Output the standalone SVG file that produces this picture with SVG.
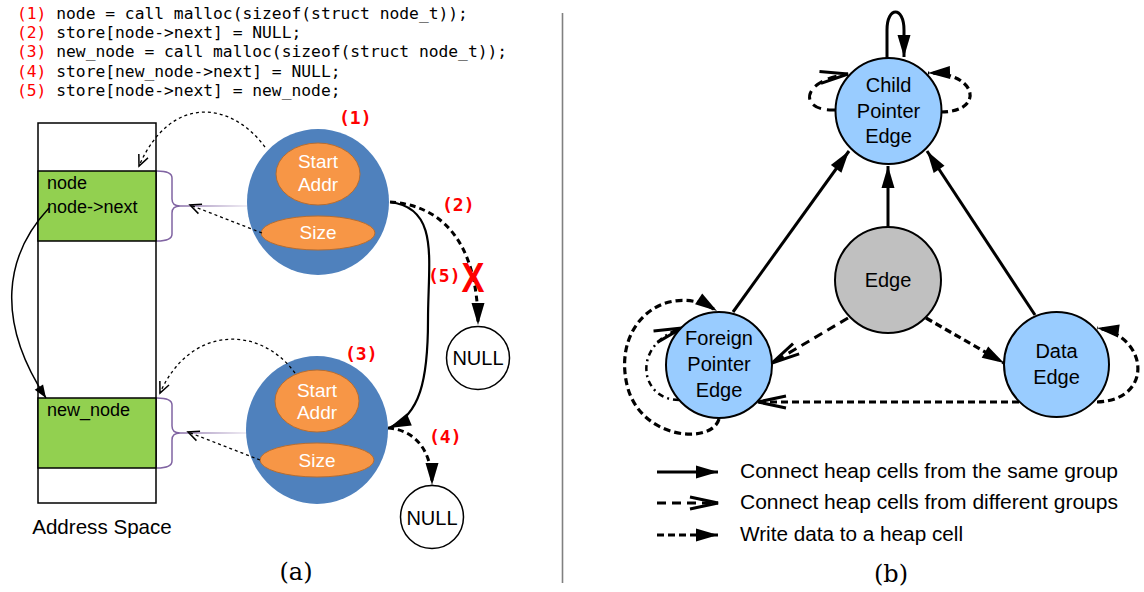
<svg xmlns="http://www.w3.org/2000/svg" width="1144" height="592" viewBox="0 0 1144 592">
<style>
.code{font-family:"DejaVu Sans Mono",monospace;font-size:16.3px;fill:#000}
.red{fill:#ff0000}
.lab{font-family:"DejaVu Sans Mono",monospace;font-size:18px;font-weight:bold;fill:#ff0000}
.sans{font-family:"Liberation Sans",Arial,sans-serif;fill:#000}
.wt{font-family:"Liberation Sans",Arial,sans-serif;font-size:19px;fill:#fff;text-anchor:middle}
.nt{font-family:"Liberation Sans",Arial,sans-serif;font-size:20px;fill:#000;text-anchor:middle}
.cap{font-family:"DejaVu Serif",serif;font-size:24px;fill:#000;text-anchor:middle}
.blob{fill:#4f81bd}
.oval{fill:#f79646;stroke:#b66d31;stroke-width:1}
.cell{fill:#92d050;stroke:#000;stroke-width:1.5}
.brace{fill:none;stroke:#8064a2;stroke-width:1.5}
.thin{fill:none;stroke:#000;stroke-width:1.3;stroke-dasharray:3,3}
.bnode{fill:#99ccff;stroke:#000;stroke-width:2}
.gnode{fill:#c0c0c0;stroke:#000;stroke-width:2}
.solid{fill:none;stroke:#000;stroke-width:3}
.diff{fill:none;stroke:#000;stroke-width:3;stroke-dasharray:9,6}
.write{fill:none;stroke:#000;stroke-width:3.2;stroke-dasharray:7,4}
.dd{fill:none;stroke:#000;stroke-width:2.5;stroke-dasharray:6,4,2,4}
</style>
<defs>
<marker id="fillB" markerUnits="userSpaceOnUse" markerWidth="24" markerHeight="14" refX="22" refY="6.5" orient="auto" overflow="visible"><path d="M0,0 L22,6.5 L0,13 z" fill="#000"/></marker>
<marker id="fillS" markerUnits="userSpaceOnUse" markerWidth="14" markerHeight="11" refX="13" refY="5" orient="auto" overflow="visible"><path d="M0,0 L13,5 L0,10 z" fill="#000"/></marker>
<marker id="openB" markerUnits="userSpaceOnUse" markerWidth="30" markerHeight="14" refX="28" refY="6" orient="auto" overflow="visible"><path d="M0,0 L28,6 L0,12" fill="none" stroke="#000" stroke-width="3"/></marker>
<marker id="openS" markerUnits="userSpaceOnUse" markerWidth="12" markerHeight="12" refX="11" refY="5" orient="auto" overflow="visible"><path d="M0,0 L11,5 L0,10" fill="none" stroke="#000" stroke-width="1.5"/></marker>
<linearGradient id="fade" x1="0" y1="0" x2="1" y2="0"><stop offset="0" stop-color="#8064a2"/><stop offset="1" stop-color="#8064a2" stop-opacity="0.15"/></linearGradient>
</defs>

<g id="code">
<text class="code" x="17" y="19"><tspan class="red">(1)</tspan> node = call malloc(sizeof(struct node_t));</text>
<text class="code" x="17" y="38"><tspan class="red">(2)</tspan> store[node-&gt;next] = NULL;</text>
<text class="code" x="17" y="57"><tspan class="red">(3)</tspan> new_node = call malloc(sizeof(struct node_t));</text>
<text class="code" x="17" y="76.5"><tspan class="red">(4)</tspan> store[new_node-&gt;next] = NULL;</text>
<text class="code" x="17" y="95.5"><tspan class="red">(5)</tspan> store[node-&gt;next] = new_node;</text>
</g>

<g id="address-space">
<rect x="38" y="123" width="118" height="380" fill="#fff" stroke="#000" stroke-width="1.5"/>
<rect class="cell" x="38" y="171" width="118" height="70"/>
<rect class="cell" x="38" y="398" width="118" height="70"/>
<text class="sans" x="47" y="189" font-size="18">node</text>
<text class="sans" x="47" y="213" font-size="18">node-&gt;next</text>
<text class="sans" x="47" y="416" font-size="18">new_node</text>
<text class="sans" x="102" y="534" font-size="20.6" text-anchor="middle">Address Space</text>
<path class="brace" d="M157,171 Q172,171 172,178 L172,199 Q172,206 180,206 Q172,206 172,213 L172,234 Q172,241 157,241"/>
<path class="brace" d="M157,398 Q172,398 172,405 L172,426 Q172,433 180,433 Q172,433 172,440 L172,461 Q172,468 157,468"/>
<rect x="180" y="205.3" width="68" height="1.4" fill="url(#fade)"/>
<rect x="180" y="432.3" width="68" height="1.4" fill="url(#fade)"/>
</g>

<g id="cell1">
<ellipse class="blob" cx="318" cy="202" rx="71" ry="73"/>
<ellipse class="oval" cx="318" cy="174" rx="42" ry="31"/>
<ellipse class="oval" cx="318" cy="233" rx="57" ry="17"/>
<text class="wt" x="318" y="168">Start</text>
<text class="wt" x="318" y="191">Addr</text>
<text class="wt" x="318" y="239">Size</text>
<text class="lab" x="339" y="124">(1)</text>
</g>

<g id="cell2">
<ellipse class="blob" cx="317" cy="430" rx="71" ry="74"/>
<ellipse class="oval" cx="317" cy="401" rx="42" ry="31"/>
<ellipse class="oval" cx="317" cy="460" rx="57" ry="17"/>
<text class="wt" x="317" y="397">Start</text>
<text class="wt" x="317" y="419">Addr</text>
<text class="wt" x="317" y="467">Size</text>
<text class="lab" x="345" y="360">(3)</text>
</g>

<g id="null1">
<circle cx="478" cy="358" r="31.5" fill="#fff" stroke="#000" stroke-width="1.5"/>
<text class="nt" x="478" y="365">NULL</text>
</g>
<g id="null2">
<circle cx="432" cy="517" r="31.5" fill="#fff" stroke="#000" stroke-width="1.5"/>
<text class="nt" x="432" y="525">NULL</text>
</g>

<g id="connectors-a">
<path class="thin" d="M265,147 C230,100 170,95 139,166" marker-end="url(#openS)"/>
<path class="thin" d="M262,233 L190,205" marker-end="url(#openS)"/>
<path class="thin" d="M295,373 C260,325 190,325 160,393" marker-end="url(#openS)"/>
<path class="thin" d="M260,460 L188,432" marker-end="url(#openS)"/>
<path fill="none" stroke="#000" stroke-width="1.5" d="M49,208 C5,255 -5,320 46,398" marker-end="url(#fillS)"/>
<path fill="none" stroke="#000" stroke-width="2.2" d="M390,202 C440,208 428,260 428,320 C428,380 420,415 389,428" marker-end="url(#fillB)"/>
<path fill="none" stroke="#000" stroke-width="3" stroke-dasharray="6,4" d="M390,202 C440,205 478,240 478,325" marker-end="url(#fillB)"/>
<path fill="none" stroke="#000" stroke-width="3" stroke-dasharray="6,4" d="M388,428 C415,430 432,450 432,485" marker-end="url(#fillB)"/>
<text class="lab" x="442" y="211">(2)</text>
<text class="lab" x="428" y="282">(5)</text>
<text class="lab" x="429" y="443">(4)</text>
<text transform="translate(473,292) scale(0.82,1)" font-family="Liberation Sans,Arial,sans-serif" font-weight="bold" font-size="42" fill="#ff0000" text-anchor="middle">X</text>
</g>

<text class="cap" x="296" y="580">(a)</text>
<line x1="562.5" y1="13" x2="562.5" y2="583" stroke="#808080" stroke-width="1.6"/>

<g id="connectors-b">
<path class="solid" d="M887,58 L887,30 C887,6 904,6 904,30 L904,57" marker-end="url(#fillB)"/>
<path class="diff" d="M836,110 C798,112 800,80 848,74" marker-end="url(#openB)"/>
<path class="write" d="M941,112 C985,112 978,72 928,73" marker-end="url(#fillB)"/>
<path class="solid" d="M733,312 L849,151" marker-end="url(#fillB)"/>
<path class="solid" d="M888,227 L888,166" marker-end="url(#fillB)"/>
<path class="solid" d="M1035,315 L927,151" marker-end="url(#fillB)"/>
<path class="diff" d="M848,318 L772,363" marker-end="url(#openB)"/>
<path class="write" d="M926,318 L1004,363" marker-end="url(#fillB)"/>
<path class="write" d="M1030,402 L758,402" marker-end="url(#openB)"/>
<path class="write" d="M1097,402 C1155,400 1148,335 1097,328" marker-end="url(#fillB)"/>
<path class="write" d="M719,419 C712,445 640,440 627,385 C612,320 670,280 717,311" marker-end="url(#fillB)"/>
<path class="dd" d="M679,400 C640,400 630,345 682,328" marker-end="url(#openB)"/>
</g>

<g id="child">
<circle class="bnode" cx="888.5" cy="111" r="53"/>
<text class="nt" x="888.5" y="92">Child</text>
<text class="nt" x="888.5" y="118">Pointer</text>
<text class="nt" x="888.5" y="143">Edge</text>
</g>
<g id="edge">
<circle class="gnode" cx="888" cy="280" r="53"/>
<text class="nt" x="888" y="287">Edge</text>
</g>
<g id="foreign">
<circle class="bnode" cx="719" cy="365" r="53"/>
<text class="nt" x="719" y="345">Foreign</text>
<text class="nt" x="719" y="371">Pointer</text>
<text class="nt" x="719" y="397">Edge</text>
</g>
<g id="data">
<circle class="bnode" cx="1056.5" cy="364.5" r="52.5"/>
<text class="nt" x="1056.5" y="358">Data</text>
<text class="nt" x="1056.5" y="384">Edge</text>
</g>

<g id="legend">
<path class="solid" d="M657,472 L718,472" marker-end="url(#fillB)"/>
<path class="diff" d="M657,503 L718,503" marker-end="url(#openB)"/>
<path class="write" d="M657,535 L718,535" marker-end="url(#fillB)"/>
<text class="sans" x="740" y="478" font-size="20" textLength="378" lengthAdjust="spacingAndGlyphs">Connect heap cells from the same group</text>
<text class="sans" x="740" y="509" font-size="20" textLength="378" lengthAdjust="spacingAndGlyphs">Connect heap cells from different groups</text>
<text class="sans" x="740" y="541" font-size="20" textLength="223" lengthAdjust="spacingAndGlyphs">Write data to a heap cell</text>
</g>
<text class="cap" x="891" y="582">(b)</text>
</svg>
